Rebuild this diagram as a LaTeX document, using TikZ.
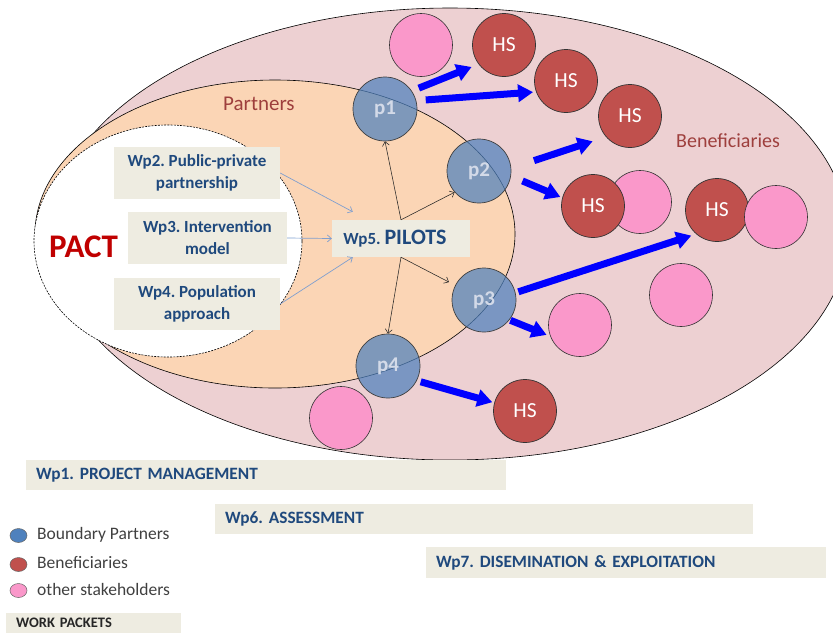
\documentclass[tikz,border=0pt]{standalone}
\usepackage{fontspec}
\setmainfont{Carlito}
\usetikzlibrary{arrows.meta,shapes.geometric}
\definecolor{benef}{HTML}{EDD0D2}
\definecolor{partn}{HTML}{FBD5B5}
\definecolor{hsred}{HTML}{C0504D}
\definecolor{stake}{HTML}{FA98CA}
\definecolor{bp}{HTML}{4F81BD}
\definecolor{boxbg}{HTML}{EEECE1}
\definecolor{wptext}{HTML}{1F497D}
\definecolor{labred}{HTML}{9E3F3D}
\definecolor{pactred}{HTML}{C00000}
\definecolor{ptext}{HTML}{D3DAE8}
\definecolor{thinblue}{HTML}{7F9FCF}
\definecolor{legtext}{HTML}{404040}
\tikzset{
  pnode/.style={circle, draw=black!75, line width=0.7pt, fill=bp, fill opacity=0.72, text opacity=1,
    minimum size=64pt, inner sep=0pt, text=ptext, font=\fontsize{21}{21}\selectfont\bfseries},
  hsnode/.style={circle, draw=black!80, line width=0.7pt, fill=hsred, minimum size=63pt, inner sep=0pt,
    text=white, font=\fontsize{21.5}{21.5}\selectfont},
  sknode/.style={circle, draw=black!80, line width=0.6pt, fill=stake, minimum size=63pt, inner sep=0pt},
  wpbox/.style={fill=boxbg, text=wptext, font=\fontsize{17}{22}\selectfont\bfseries, align=center, inner sep=0pt},
  wpbar/.style={fill=boxbg, text=wptext, font=\fontsize{17.3}{20}\selectfont\bfseries, align=left,
    inner xsep=10pt, inner ysep=0pt, anchor=north west},
  bigarrow/.style={draw=blue, line width=7pt, -{Triangle[length=15pt,width=17pt]}},
  thinarrow/.style={draw=black!85, line width=0.55pt, -{Straight Barb[length=4pt,width=7pt]}},
  bluearrow/.style={draw=thinblue, line width=0.7pt, -{Straight Barb[length=4pt,width=7pt]}},
  legdot/.style={ellipse, minimum width=17pt, minimum height=14pt, inner sep=0pt, draw=black!60, line width=0.5pt},
  legtxt/.style={anchor=base west, inner sep=0pt, text=legtext, font=\fontsize{17.5}{17.5}\selectfont},
  grplabel/.style={anchor=base west, inner sep=0pt, text=labred},
}
\begin{document}
\frenchspacing
\begin{tikzpicture}[x=1pt,y=-1pt]
\useasboundingbox (0,0) rectangle (833,633);
\clip (0,0) rectangle (833,633);
% regions
\draw[fill=benef, line width=0.6pt] (450,234) ellipse [x radius=398pt, y radius=226pt];
\draw[fill=partn, line width=0.6pt] (275,234) ellipse [x radius=240pt, y radius=154pt];
\draw[fill=white, line width=0.6pt, dash pattern=on 2pt off 1.2pt] (168,241) ellipse [x radius=134pt, y radius=116pt];
% labels
\node[grplabel, font=\fontsize{21}{21}\selectfont] (lpart) at (223,110) {Partners};
\node[grplabel, font=\fontsize{20}{20}\selectfont] (lbenef) at (676,147) {Beneficiaries};
\node[anchor=base west, inner sep=0pt, text=pactred, font=\fontsize{33}{33}\selectfont\bfseries] (pact) at (49,257) {PACT};
% work package boxes
\node[wpbox, minimum width=166pt, minimum height=52pt] (wp2) at (197,173) {Wp2. Public-private\\partnership};
\node[wpbox, minimum width=159pt, minimum height=52pt] (wp3) at (207.5,238) {Wp3. Intervention\\model};
\node[wpbox, minimum width=166pt, minimum height=52pt] (wp4) at (197,304) {Wp4. Population\\approach};
\node[wpbox, minimum width=138pt, minimum height=37pt] (wp5) at (401,238.5) {Wp5. {\fontsize{22}{22}\selectfont PILOTS}\hspace*{12pt}};
% stakeholders and beneficiaries
\node[sknode] (sk1) at (421,45) {};
\node[sknode] (sk2) at (640,202) {};
\node[sknode] (sk4) at (681,295) {};
\node[sknode] (sk5) at (580,325) {};
\node[sknode] (sk6) at (341,418) {};
\node[hsnode] (hs1) at (504,45) {HS};
\node[hsnode] (hs2) at (566,81) {HS};
\node[hsnode] (hs3) at (630,116) {HS};
\node[hsnode] (hs4) at (593,206) {HS};
\node[hsnode] (hs5) at (717,210) {HS};
\node[hsnode] (hs6) at (525,411) {HS};
\node[sknode] (sk3) at (776,217) {};
% thin arrows
\draw[bluearrow] (wp2.east) -- ([xshift=21pt,yshift=8pt]wp5.north west);
\draw[bluearrow] (wp3.east) -- (wp5.west);
\draw[bluearrow] (wp4.east) -- ([xshift=21pt]wp5.south west);
% boundary partners
\node[pnode] (p1) at (385,109) {p1};
\node[pnode] (p2) at (479,171) {p2};
\node[pnode] (p3) at (484,300) {p3};
\node[pnode] (p4) at (388,366) {p4};
\draw[thinarrow] (wp5.north) -- (p1.south);
\draw[thinarrow] (wp5.north) -- (p2.221);
\draw[thinarrow] (wp5.south) -- (p4.north);
\draw[thinarrow, shorten >=7pt] (wp5.south) -- (p3.153);
% thick blue arrows
\draw[bigarrow, shorten <=7.5pt, shorten >=7.5pt] (p1.34) -- (hs1.217);
\draw[bigarrow, shorten <=9.5pt, shorten >=3pt] (p1.15) -- (hs2.200);
\draw[bigarrow, shorten <=24pt, shorten >=14pt] (p2.5) -- (hs3.221);
\draw[bigarrow, shorten <=12.5pt, shorten >=2pt] (p2.-9) -- (hs4.165);
\draw[bigarrow, shorten <=3pt, shorten >=5pt] (p3.13) -- (hs5.229);
\draw[bigarrow, shorten <=1pt, shorten >=4pt] (p3.-38) -- (sk5.201);
\draw[bigarrow, shorten <=4pt, shorten >=2pt] (p4.-27) -- (hs6.165);
% work package bars
\node[wpbar, minimum width=480pt, minimum height=30pt, text width=460pt] (wp1) at (26,460) {Wp1. PROJECT MANAGEMENT};
\node[wpbar, minimum width=538pt, minimum height=30pt, text width=518pt] (wp6) at (215,504) {Wp6. ASSESSMENT};
\node[wpbar, minimum width=400pt, minimum height=31pt, text width=380pt] (wp7) at (426,547) {Wp7. DISEMINATION \& EXPLOITATION};
\node[wpbar, minimum width=175pt, minimum height=20pt, text width=155pt, text=black!85, font=\fontsize{14.5}{15}\selectfont\bfseries] (wpk) at (6,613) {WORK PACKETS};
% legend
\node[legdot, fill=bp] (lg1) at (18.5,535.5) {};
\node[legdot, fill=hsred] (lg2) at (18.5,564.5) {};
\node[legdot, fill=stake] (lg3) at (18.5,590.5) {};
\node[legtxt] (lt1) at (37,539) {Boundary Partners};
\node[legtxt] (lt2) at (37,568) {Beneficiaries};
\node[legtxt] (lt3) at (37,595) {other stakeholders};
\end{tikzpicture}
\end{document}
